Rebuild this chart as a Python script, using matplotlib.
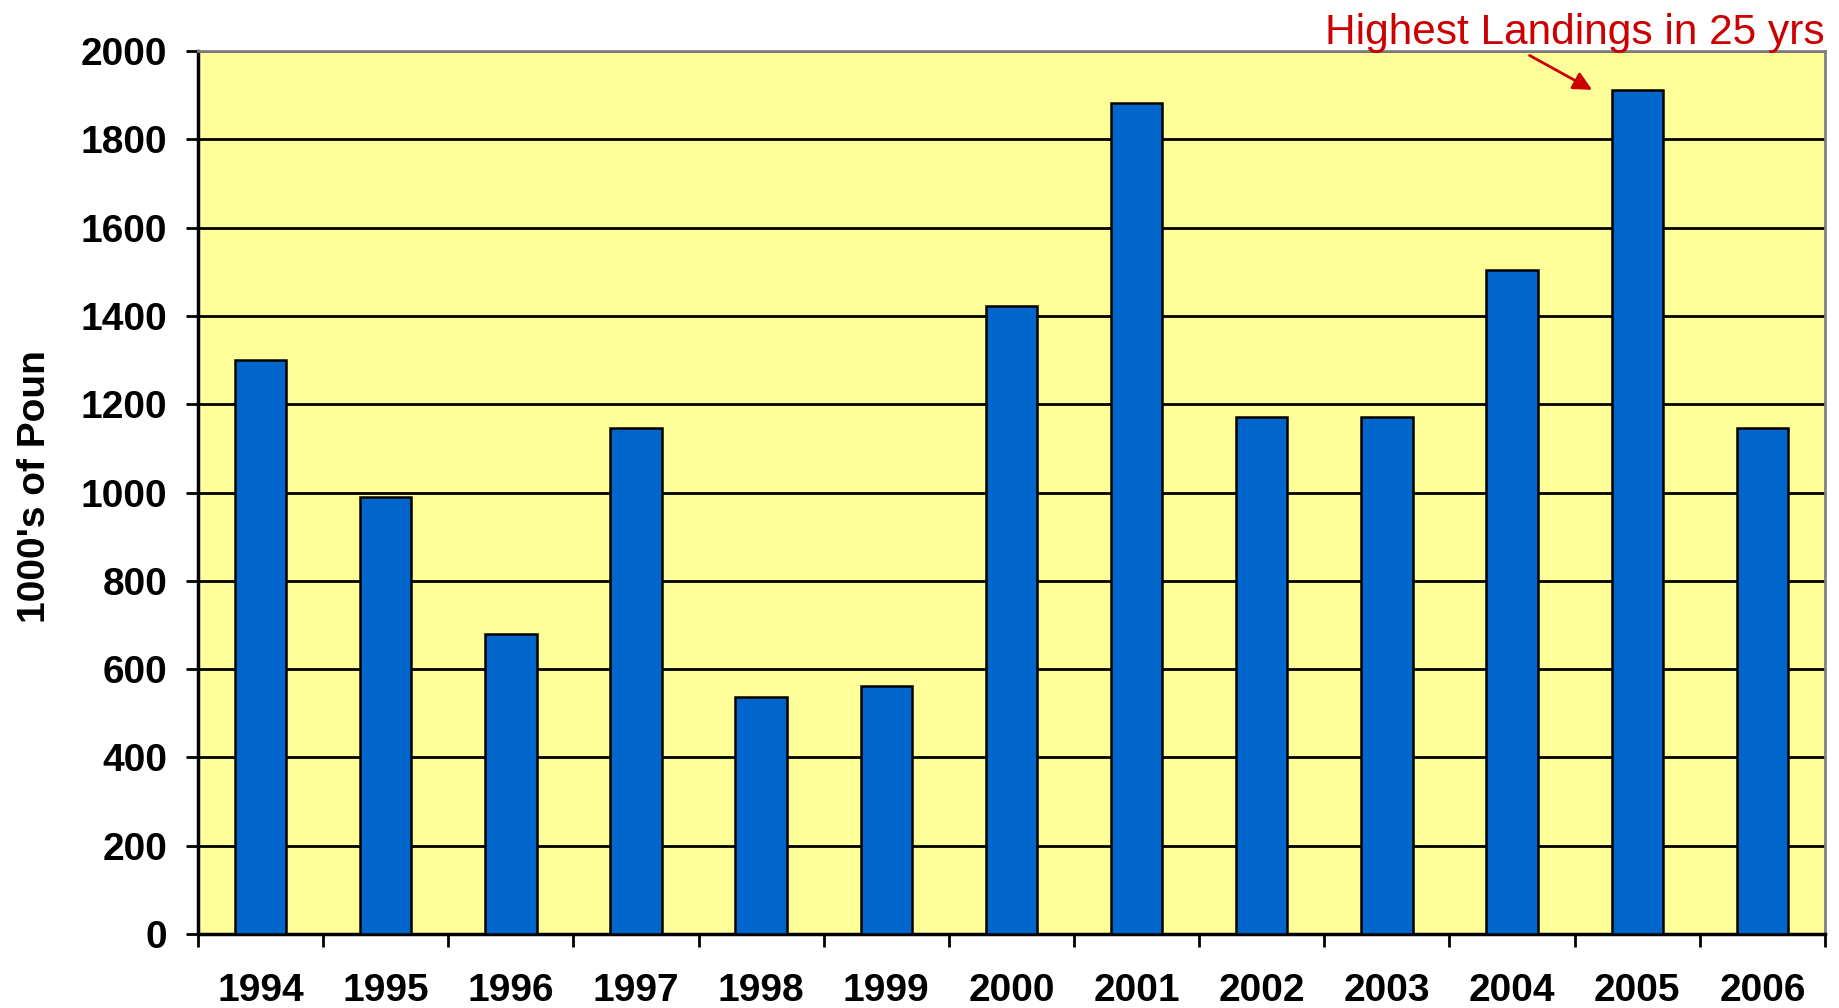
import matplotlib
matplotlib.use("Agg")
import matplotlib.pyplot as plt
import numpy as np

years = ["1994", "1995", "1996", "1997", "1998", "1999", "2000",
         "2001", "2002", "2003", "2004", "2005", "2006"]
landings = [1300, 990, 680, 1145, 537, 561, 1423, 1882, 1170, 1170, 1503, 1912, 1145]
y_ticks = [0, 200, 400, 600, 800, 1000, 1200, 1400, 1600, 1800, 2000]
note_text = "Highest Landings in 25 yrs"
y_title = "1000's of Poun"

plt.rcParams["font.family"] = ["Liberation Sans", "DejaVu Sans"]

fig = plt.figure(figsize=(18.4, 10.08), dpi=100)
ax = fig.add_axes([0.1076, 0.0734, 0.9918 - 0.1076, 0.9494 - 0.0734])
ax.set_facecolor("#FFFF99")

x = np.arange(len(years))
ax.bar(x, landings, width=0.41, color="#0066CC", edgecolor="black",
       linewidth=1.8, zorder=3)

ax.set_xlim(-0.5, len(years) - 0.5)
ax.set_ylim(0, 2000)

# y axis
ax.set_yticks(y_ticks)
ax.set_yticklabels([str(v) for v in y_ticks], fontsize=28, fontweight="bold")
ax.tick_params(axis="y", direction="out", length=9, width=2, pad=13)
ax.yaxis.grid(True, color="black", linewidth=2, zorder=1)
ax.set_axisbelow(True)

# x axis: labels at category centres, tick marks between categories
ax.set_xticks(x)
ax.set_xticklabels(years, fontsize=28, fontweight="bold")
ax.tick_params(axis="x", which="major", length=0, pad=28)
ax.set_xticks(np.arange(-0.5, len(years)), minor=True)
ax.tick_params(axis="x", which="minor", direction="out", length=9, width=2)

for side in ("left", "bottom"):
    ax.spines[side].set_color("black")
    ax.spines[side].set_linewidth(2.5)
for side in ("top", "right"):
    ax.spines[side].set_color("#808080")
    ax.spines[side].set_linewidth(2)

ax.set_ylabel(y_title, fontsize=28, fontweight="bold")
ax.yaxis.set_label_coords(-0.089, 0.507)

# annotation for the peak year
peak = int(np.argmax(landings))
ax.text(len(years) - 0.5, 2016, note_text, fontsize=30.5, color="#CC0000",
        ha="right", va="baseline", clip_on=False)
ax.annotate("", xy=(peak - 0.36, landings[peak]), xytext=(peak - 0.86, 1990),
            arrowprops=dict(arrowstyle="-|>", color="#CC0000", lw=2,
                            mutation_scale=28, shrinkA=0, shrinkB=0),
            annotation_clip=False)

fig.savefig("out.png", dpi=100)
